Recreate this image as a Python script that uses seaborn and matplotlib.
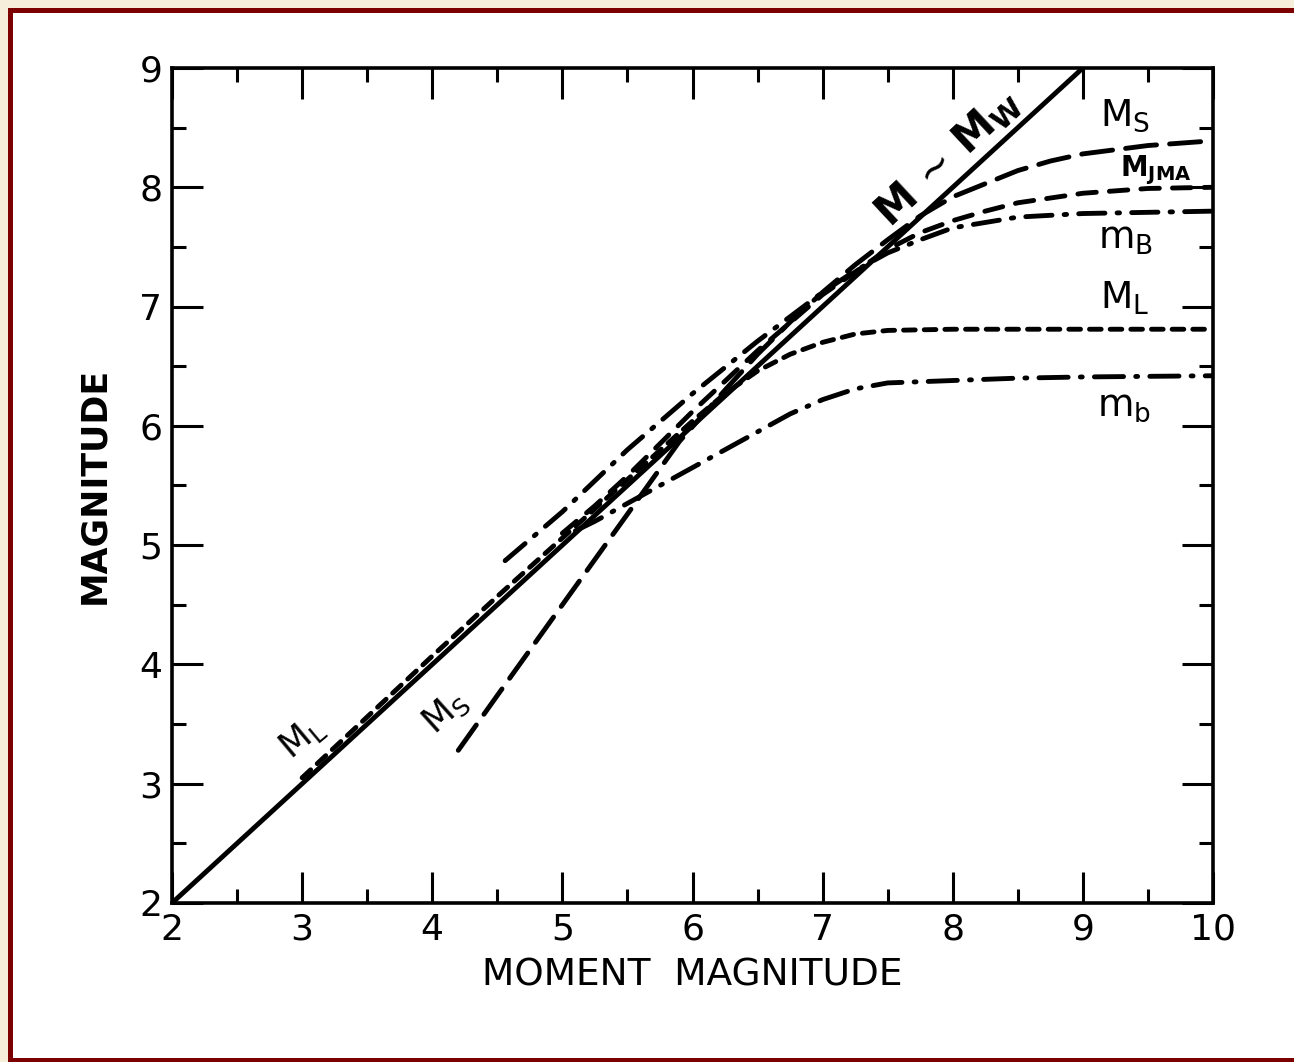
import numpy as np
import pandas as pd
import seaborn as sns
import matplotlib
matplotlib.use("Agg")
import matplotlib.pyplot as plt
from matplotlib.patches import Rectangle

# Moment magnitude (x) vs. other magnitude scales (y)
mw_x = [2.0, 9.0]
mw_y = [2.0, 9.0]

ml_x = [3.0, 3.5, 4.0, 4.5, 5.0, 5.5, 6.0, 6.25, 6.5, 6.75, 7.0, 7.25, 7.5, 8.0, 9.0, 10.0]
ml_y = [3.05, 3.56, 4.07, 4.57, 5.06, 5.55, 6.04, 6.27, 6.46, 6.6, 6.7, 6.77, 6.8, 6.81, 6.81, 6.81]

mb_x = [5.1, 5.25, 5.5, 5.75, 6.0, 6.5, 6.75, 7.0, 7.25, 7.5, 8.0, 8.5, 9.0, 10.0]
mb_y = [5.12, 5.2, 5.35, 5.5, 5.65, 5.95, 6.1, 6.22, 6.31, 6.36, 6.38, 6.4, 6.41, 6.42]

ms_x = [4.2, 4.5, 5.0, 5.5, 5.9, 6.25, 6.5, 6.75, 7.0, 7.25, 7.5, 7.75, 8.0, 8.5, 8.75, 9.0, 9.5, 10.0]
ms_y = [3.28, 3.74, 4.5, 5.26, 5.87, 6.3, 6.6, 6.87, 7.12, 7.35, 7.56, 7.76, 7.92, 8.14, 8.22, 8.28, 8.35, 8.39]

mjma_x = [5.0, 5.25, 5.5, 6.0, 6.5, 7.0, 7.5, 7.75, 8.0, 8.25, 8.5, 9.0, 9.5, 10.0]
mjma_y = [5.1, 5.33, 5.58, 6.12, 6.63, 7.1, 7.48, 7.62, 7.72, 7.8, 7.87, 7.95, 7.99, 8.0]

mbb_x = [4.56, 5.0, 5.5, 6.0, 6.5, 7.0, 7.25, 7.5, 7.75, 8.0, 8.5, 9.0, 9.5, 10.0]
mbb_y = [4.87, 5.28, 5.8, 6.27, 6.71, 7.12, 7.3, 7.45, 7.56, 7.66, 7.75, 7.78, 7.79, 7.8]

x_ticks = [2, 3, 4, 5, 6, 7, 8, 9, 10]
y_ticks = [2, 3, 4, 5, 6, 7, 8, 9]

sns.set_style("white")
plt.rcParams["font.family"] = ["DejaVu Sans"]
plt.rcParams["mathtext.fontset"] = "dejavusans"
for key in ["text.color", "axes.labelcolor", "xtick.color", "ytick.color"]:
    plt.rcParams[key] = "black"

fig = plt.figure(figsize=(12.94, 10.62), dpi=100)
fig.patch.set_facecolor("white")
ax = fig.add_axes([172 / 1294, 159 / 1062, (1213 - 172) / 1294, (903 - 68) / 1062])

LW = 3.5
series = [
    (mw_x, mw_y, "-"),
    (ml_x, ml_y, (0, (2.4, 1.85))),
    (mb_x, mb_y, (0, (6.0, 2.5, 0.4, 2.5))),
    (ms_x, ms_y, (0, (6.4, 2.7))),
    (mjma_x, mjma_y, (0, (3.8, 2.7))),
    (mbb_x, mbb_y, (0, (5.4, 2.5, 0.5, 2.5))),
]
for xs, ys, ls in series:
    sns.lineplot(x=xs, y=ys, ax=ax, color="black", linewidth=LW,
                 linestyle=ls, sort=False, estimator=None,
                 dash_capstyle="round", solid_capstyle="butt")

ax.set_xlim(2, 10)
ax.set_ylim(2, 9)
ax.set_xticks(x_ticks)
ax.set_yticks(y_ticks)
ax.set_xticklabels([str(t) for t in x_ticks])
ax.set_yticklabels([str(t) for t in y_ticks])
ax.set_xticks(np.arange(2.5, 10, 1.0), minor=True)
ax.set_yticks(np.arange(2.5, 9, 1.0), minor=True)
ax.tick_params(which="both", direction="in", top=True, right=True,
               bottom=True, left=True, width=2.2, color="black")
ax.tick_params(which="major", length=22, labelsize=26, pad=7, labelcolor="black")
ax.tick_params(which="minor", length=10)
for sp in ax.spines.values():
    sp.set_linewidth(2.6)
    sp.set_color("black")

ax.set_xlabel("MOMENT  MAGNITUDE", fontsize=27, labelpad=8, color="black")
ax.set_ylabel("MAGNITUDE", fontsize=25, labelpad=20, fontweight="bold",
              color="black")

# curve labels
ax.text(7.96, 8.245, r"M$\,\sim\,$M$_{\mathregular{W}}$", fontsize=30,
        rotation=43, ha="center", va="center", rotation_mode="anchor",
        fontweight="bold")
ax.text(9.32, 8.60, r"M$_{\mathregular{S}}$", fontsize=27, ha="center", va="center")
ax.text(9.56, 8.14, r"M$_{\mathregular{JMA}}$", fontsize=20, ha="center",
        va="center", fontweight="bold")
ax.text(9.33, 7.57, r"m$_{\mathregular{B}}$", fontsize=27, ha="center", va="center")
ax.text(9.32, 7.07, r"M$_{\mathregular{L}}$", fontsize=27, ha="center", va="center")
ax.text(9.32, 6.17, r"m$_{\mathregular{b}}$", fontsize=27, ha="center", va="center")
ax.text(3.0, 3.39, r"M$_{\mathregular{L}}$", fontsize=25, rotation=40,
        ha="center", va="center", rotation_mode="anchor")
ax.text(4.1, 3.6, r"M$_{\mathregular{S}}$", fontsize=25, rotation=42,
        ha="center", va="center", rotation_mode="anchor")

# page frame
W, H = 1294, 1062
beige = "#f7eddb"
red = "#7d0000"
fig.add_artist(Rectangle((0, 1 - 8 / H), 1, 8 / H, transform=fig.transFigure,
                         color=beige, lw=0))
fig.add_artist(Rectangle((0, 0), 8 / W, 1, transform=fig.transFigure,
                         color=beige, lw=0))
fig.add_artist(Rectangle((8 / W, 1 - 13 / H), 1, 5 / H, transform=fig.transFigure,
                         color=red, lw=0))
fig.add_artist(Rectangle((8 / W, 0), 5 / W, 1 - 8 / H, transform=fig.transFigure,
                         color=red, lw=0))
fig.add_artist(Rectangle((8 / W, 0), 1, 4 / H, transform=fig.transFigure,
                         color=red, lw=0))

fig.savefig("out.png", dpi=100, facecolor="white")
